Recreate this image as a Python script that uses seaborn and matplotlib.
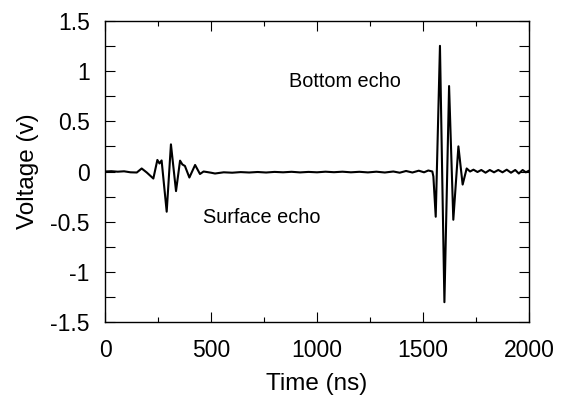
import matplotlib
matplotlib.use("Agg")
import matplotlib.pyplot as plt
import seaborn as sns
import pandas as pd
from matplotlib.ticker import MultipleLocator

# Data (time in ns, voltage in V)
time_ns = [0, 30, 60, 90, 120, 150, 173, 197, 228, 247, 257, 267, 291, 311, 335,
           354, 365, 377, 398, 425, 448, 465, 480, 500, 519,
           560, 600, 640, 680, 720, 760, 800, 840, 880, 920, 960, 1000, 1040,
           1080, 1120, 1160, 1200, 1240, 1280, 1320, 1360, 1390, 1420, 1450,
           1480, 1505, 1525, 1544, 1549, 1560, 1580, 1601, 1623, 1643, 1667,
           1687, 1706, 1722, 1738, 1757, 1775, 1795, 1815, 1835, 1855, 1875,
           1895, 1915, 1935, 1952, 1970, 1985, 2000]
voltage_v = [0.0, 0.003, -0.002, 0.002, -0.008, -0.01, 0.03, -0.01, -0.07, 0.115,
             0.08, 0.11, -0.40, 0.27, -0.195, 0.108, 0.07, 0.055, -0.06, 0.065,
             -0.025, 0.0, -0.005, -0.012, -0.02,
             -0.008, -0.012, -0.006, -0.01, -0.005, -0.01, -0.004, -0.008, -0.003,
             -0.009, -0.004, -0.008, -0.002, -0.007, -0.002, -0.008, -0.003,
             -0.009, -0.002, -0.01, 0.0, -0.012, 0.005, -0.01, 0.008, -0.008,
             0.01, 0.0, -0.05, -0.45, 1.25, -1.30, 0.85, -0.48, 0.25, -0.13, 0.03,
             0.0, 0.018, -0.005, 0.015, -0.012, 0.015, -0.008, 0.015, -0.008, 0.018,
             -0.012, 0.015, -0.02, 0.015, -0.008, 0.008]

annotations = ["Bottom echo", "Surface echo"]
annot_x = [868, 464]
annot_y = [0.844, -0.515]

x_label = "Time (ns)"
y_label = "Voltage (v)"

sns.set_style("ticks")
plt.rcParams["font.family"] = ["Liberation Sans", "DejaVu Sans"]
plt.rcParams["text.color"] = "black"
plt.rcParams["axes.labelcolor"] = "black"
plt.rcParams["xtick.color"] = "black"
plt.rcParams["ytick.color"] = "black"

df = pd.DataFrame({"t": time_ns, "v": voltage_v})

fig = plt.figure(figsize=(5.63, 4.08), dpi=100)
ax = fig.add_axes([105 / 563, 1 - 322.3 / 408, (529 - 105) / 563, (322.3 - 20.7) / 408])

sns.lineplot(data=df, x="t", y="v", ax=ax, color="black", linewidth=1.5,
             sort=False, estimator=None)

ax.set_xlim(0, 2000)
ax.set_ylim(-1.5, 1.5)
ax.xaxis.set_major_locator(MultipleLocator(500))
ax.xaxis.set_minor_locator(MultipleLocator(250))
ax.yaxis.set_major_locator(MultipleLocator(0.5))
ax.yaxis.set_minor_locator(MultipleLocator(0.25))
ax.yaxis.set_major_formatter(plt.FuncFormatter(lambda v, p: f"{v:g}"))

ax.tick_params(which="both", direction="in", top=True, right=True, width=0.8,
               colors="black", labelcolor="black", labelsize=16.5)
ax.tick_params(axis="x", which="major", length=7.2, pad=12)
ax.tick_params(axis="x", which="minor", length=3.6)
ax.tick_params(axis="y", which="major", length=7.2, pad=11)
ax.tick_params(axis="y", which="minor", length=7.2)

for s in ax.spines.values():
    s.set_linewidth(1.0)
    s.set_color("black")

ax.set_xlabel(x_label, fontsize=17.5, labelpad=8, color="black")
ax.set_ylabel(y_label, fontsize=17.5, labelpad=8, color="black")

for txt, x, y in zip(annotations, annot_x, annot_y):
    ax.text(x, y, txt, fontsize=14.3, ha="left", va="baseline", color="black")

fig.savefig("out.png", dpi=100)
